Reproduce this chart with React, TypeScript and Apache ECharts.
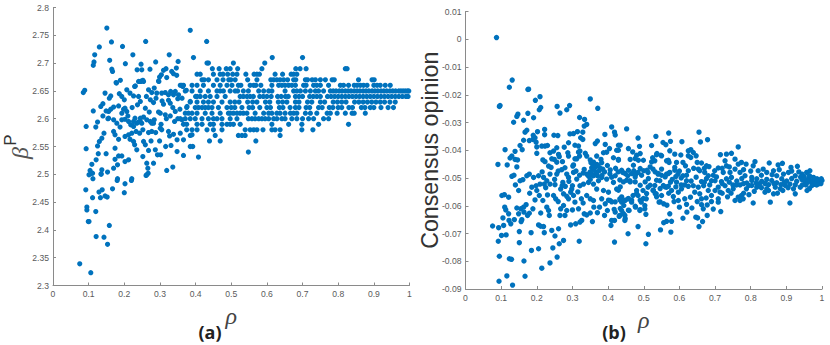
import React, { useEffect, useRef } from "react";
import * as echarts from "echarts";

// Panel (a): scattered points as [rho, beta]
const betaLoose = [
[.075,2.339],[.106,2.323],[.121,2.388],[.143,2.387],[.153,2.374],[.158,2.408],[.099,2.415],[.101,2.415],[.12,2.433],[.095,2.441],[.095,2.436],[.111,2.458],[.133,2.458],[.146,2.461],[.152,2.459],[.092,2.472],[.129,2.468],[.138,2.472],[.167,2.474],[.18,2.489],[.2,2.467],[.202,2.483],[.22,2.489],[.112,2.492],[.101,2.499],[.106,2.501],[.111,2.502],[.135,2.501],[.153,2.504],[.261,2.498],[.267,2.502],[.319,2.507],
[.151,2.763],[.13,2.729],[.164,2.738],[.117,2.715],[.195,2.73],[.224,2.715],[.26,2.739],[.385,2.759],[.431,2.739],[.394,2.71],[.115,2.702],[.113,2.696],[.159,2.705],[.203,2.699],[.247,2.698],[.288,2.702],[.326,2.715],[.351,2.703],[.236,2.688],[.249,2.688],[.272,2.689],[.165,2.689],[.167,2.685],[.178,2.664],[.189,2.669],[.317,2.69],[.31,2.687],[.304,2.679],[.299,2.675],[.333,2.685],[.338,2.681],[.346,2.691],[.347,2.678],[.319,2.674],[.297,2.667],[.24,2.667],[.246,2.667],[.252,2.669],[.229,2.658],[.085,2.647],[.089,2.651],
[.146,2.646],[.162,2.641],[.158,2.637],[.186,2.645],[.193,2.64],[.2,2.634],[.14,2.627],[.134,2.622],[.113,2.614],[.17,2.621],[.162,2.617],[.156,2.613],[.149,2.614],[.198,2.617],[.202,2.619],[.193,2.61],[.207,2.613],[.156,2.601],[.17,2.598],[.125,2.594],[.093,2.586],[.193,2.598],[.202,2.599],[.212,2.595],[.218,2.589],[.226,2.586],[.179,2.592],[.188,2.585],[.235,2.592],[.245,2.595],[.254,2.603],[.263,2.598],[.277,2.592],[.284,2.598],[.301,2.583],[.17,2.577],[.174,2.571],[.184,2.563],[.143,2.574],[.137,2.565],[.13,2.559],[.125,2.551],[.093,2.546],[.202,2.568],[.212,2.571],[.221,2.574],[.233,2.577],[.243,2.574],[.216,2.563],[.226,2.559],[.229,2.553],[.254,2.559],[.259,2.553],[.275,2.56],[.299,2.56],[.235,2.544],[.268,2.543],[.287,2.544],[.252,2.532],[.293,2.535],[.302,2.535],[.282,2.52],[.263,2.52],[.266,2.511],[.263,2.499],[.336,2.513],[.174,2.547],[.184,2.533],[.193,2.533],[.202,2.523],[.212,2.526],[.174,2.527],[.181,2.517],[.17,2.511],[.127,2.537],[.149,2.537],[.121,2.526],[.104,2.507],[.109,2.518],[.137,2.508],[.135,2.5],[.181,2.492],[.221,2.492],
[.324,2.577],[.327,2.569],[.357,2.574],[.348,2.562],[.366,2.562],[.331,2.552],[.348,2.541],[.366,2.534],[.385,2.55],[.392,2.55],[.408,2.531],[.341,2.595],[.362,2.598],[.39,2.571],[.277,2.577],
[.268,2.652],[.277,2.647],[.291,2.646],[.305,2.646],[.315,2.647],[.324,2.643],[.33,2.649],[.343,2.649],[.352,2.643],[.362,2.637],[.329,2.628],[.324,2.633],[.343,2.613],[.301,2.61],[.315,2.607],[.329,2.605],[.289,2.637],[.282,2.629],[.273,2.634],[.259,2.619],[.24,2.64],[.245,2.631],[.226,2.641],[.216,2.646],[.207,2.652],[.245,2.667],[.231,2.659],[.254,2.667],[.177,2.665],[.296,2.668],[.357,2.66],[.364,2.658],[.374,2.651],[.385,2.631],[.376,2.622],[.24,2.594],[.249,2.592],[.273,2.595],[.282,2.592],[.226,2.595],[.23,2.601],[.245,2.601],
[.338,2.643],[.35,2.636],[.31,2.626],[.296,2.612],[.27,2.612],[.21,2.605],[.222,2.62],[.237,2.625],[.262,2.64],[.284,2.655],[.306,2.632],[.336,2.62],[.356,2.617],[.35,2.6],[.318,2.6],[.305,2.58],[.288,2.575],[.338,2.572],[.316,2.55],[.303,2.59],[.252,2.58],[.268,2.575],[.14,2.605],[.12,2.585],[.184,2.623],[.154,2.6],
];
// Panel (a): values quantised on rows, one list of rho per beta
const beta270 = [.432,.436,.506,.594];
const beta271 = [.615,.70];
const beta269 = [.447,.466,.486,.497,.518,.586,.681,.693,.71,.82,.825];
const beta268 = [.404,.413,.45,.469,.477,.49,.504,.516,.541,.564,.572,.579,.623,.644,.668,.675,.684];
const beta267 = [.418,.424,.436,.46,.477,.493,.499,.511,.546,.572,.611,.619,.628,.637,.647,.658,.675,.681,.708,.714,.727,.736,.75,.764,.783,.789,.857,.895,.901];
const beta266 = [.361,.366,.39,.404,.422,.45,.469,.488,.502,.52,.527,.553,.563,.569,.583,.614,.633,.642,.651,.661,.67,.68,.703,.71,.731,.74,.75,.773,.806,.815,.829,.845,.853,.862,.871,.881,.9,.909,.918,.932,.946];
const beta265 = [.371,.39,.413,.436,.46,.469,.478,.497,.511,.518,.534,.548,.577,.591,.605,.614,.651,.675,.684,.694,.708,.722,.736,.745,.759,.778,.786,.794,.803,.811,.82,.828,.836,.845,.853,.861,.87,.878,.886,.895,.903,.911,.92,.928,.936,.945,.953,.961,.97,.976,.982,.988,.994,.998];
const beta264 = [.40,.404,.413,.427,.441,.46,.483,.525,.534,.544,.553,.562,.58,.59,.6,.612,.63,.64,.652,.66,.68,.69,.7,.72,.73,.74,.75,.77,.78,.79,.8,.81,.82,.83,.84,.85,.86,.87,.88,.89,.9,.91,.92,.93,.94,.95,.96,.97,.98,.99,.996];
const beta263 = [.385,.404,.422,.436,.45,.474,.497,.51,.522,.546,.56,.572,.596,.608,.632,.644,.656,.68,.69,.714,.726,.75,.762,.786,.798,.81,.822,.846,.858,.87,.882,.894,.906,.918,.93,.945,.96];
const beta262 = [.375,.399,.408,.418,.427,.436,.446,.464,.488,.5,.51,.53,.55,.56,.58,.6,.61,.635,.645,.665,.68,.69,.71,.72,.745,.755,.775,.785,.8,.81,.83,.84,.865,.875,.89,.9,.92,.94,.955];
const beta261 = [.371,.38,.39,.404,.427,.446,.469,.492,.497,.506,.516,.525,.534,.544,.567,.591,.605,.614,.628,.637,.651,.666,.675,.684,.708,.722,.74,.769,.778,.797,.82,.839,.845,.876];
const beta260 = [.357,.371,.385,.399,.418,.436,.45,.46,.474,.497,.516,.548,.558,.567,.577,.586,.595,.605,.619,.628,.642,.651,.67,.684,.7,.717,.731,.759,.773];
const beta259 = [.366,.375,.404,.418,.441,.45,.474,.488,.497,.506,.525,.614,.661,.698,.745,.829];
const beta258 = [.375,.39,.404,.432,.45,.474,.539,.553,.563,.572,.589,.614,.623,.637,.698,.729];
const beta257 = [.385,.455,.52,.53,.539,.637];
const beta256 = [.439,.469,.569];
const beta254 = [.548];
const betaRows: [number, number[]][] = [[2.71,beta271],[2.70,beta270],[2.69,beta269],[2.68,beta268],[2.67,beta267],[2.66,beta266],[2.65,beta265],[2.64,beta264],[2.63,beta263],[2.62,beta262],[2.61,beta261],[2.60,beta260],[2.59,beta259],[2.58,beta258],[2.57,beta257],[2.56,beta256],[2.54,beta254]];

// Panel (b): points as [rho, consensus]
const opinionLow = [
[.087,.0006],[.131,-.0147],[.123,-.0173],[.175,-.0181],[.177,-.018],[.209,-.0207],[.196,-.022],[.097,-.0239],[.095,-.0242],[.211,-.0246],[.207,-.0254],[.257,-.0242],[.292,-.0239],[.284,-.0254],[.265,-.0266],[.35,-.0215],[.371,-.0249],[.175,-.0267],[.147,-.027],[.144,-.0278],[.191,-.0283],[.135,-.0299],[.163,-.0292],[.32,-.0282],[.334,-.0289],[.34,-.0307],[.333,-.0313],[.41,-.0316],[.418,-.0335],[.172,-.0328],[.167,-.0335],[.202,-.0333],[.222,-.0325],[.222,-.0344],[.19,-.0346],[.248,-.0346],[.259,-.0347],[.293,-.0341],[.303,-.034],[.314,-.0333],[.329,-.0335],[.323,-.0355],[.329,-.0361],[.391,-.0343],[.153,-.0383],[.163,-.0364],[.179,-.0365],[.189,-.0361],[.195,-.0355],[.198,-.0371],[.2,-.0388],[.111,-.0398],[.159,-.0398],[.139,-.0404],[.214,-.0385],[.223,-.0385],[.23,-.0383],[.247,-.0403],[.256,-.0391],[.237,-.0409],[.277,-.0389],[.289,-.0373],[.307,-.0382],[.317,-.0385],[.321,-.0403],[.364,-.0376],[.37,-.0367],[.392,-.0379],[.404,-.0394],[.429,-.0382],[.424,-.04],
[.13,-.0421],[.125,-.0428],[.139,-.0433],[.146,-.0435],[.091,-.0451],[.117,-.0453],[.144,-.046],[.2,-.0411],[.217,-.0435],[.223,-.0441],[.233,-.0457],[.242,-.0431],[.249,-.0433],[.261,-.0415],[.263,-.0423],[.256,-.0443],[.272,-.0441],[.287,-.0409],[.289,-.0421],[.303,-.0453],[.317,-.0407],[.32,-.0421],[.312,-.0431],[.307,-.0431],[.336,-.0411],[.34,-.0421],[.35,-.0435],[.359,-.0443],[.368,-.0421],[.38,-.0433],[.387,-.0409],[.396,-.0407],[.415,-.0427],[.429,-.0433],[.368,-.0451],[.382,-.0445],[.398,-.0455],[.421,-.0465],[.279,-.0463],[.301,-.0457],[.333,-.0469],[.354,-.0463],[.406,-.0471],
[.13,-.0494],[.136,-.049],[.153,-.051],[.161,-.0506],[.172,-.0492],[.179,-.0486],[.191,-.0498],[.14,-.0525],[.149,-.0545],[.186,-.0533],[.198,-.0528],[.209,-.0522],[.221,-.0522],[.228,-.051],[.237,-.0522],[.251,-.0524],[.102,-.0563],[.109,-.056],[.121,-.0569],[.207,-.0563],[.195,-.0579],[.217,-.0581],[.23,-.0561],[.247,-.0563],[.253,-.0575],[.11,-.0605],[.113,-.0615],[.121,-.0629],[.105,-.0644],[.144,-.0608],[.155,-.0611],[.149,-.0629],[.17,-.0596],[.163,-.0605],[.164,-.0623],[.179,-.0627],[.189,-.0611],[.211,-.0626],[.228,-.0605],[.233,-.0617],[.235,-.0635],[.122,-.0653],[.127,-.0665],[.137,-.065],[.158,-.065],[.156,-.0657],[.174,-.0635],
[.076,-.0673],[.093,-.0679],[.107,-.0671],[.101,-.0707],[.114,-.0705],[.092,-.0728],[.151,-.0693],[.151,-.0733],[.184,-.0697],[.205,-.0669],[.211,-.0674],[.219,-.0675],[.221,-.0697],[.242,-.0689],[.251,-.0709],[.261,-.0683],[.275,-.0725],[.263,-.0737],[.245,-.0752],[.257,-.0785],[.237,-.0806],[.205,-.0755],[.185,-.0761],[.164,-.0799],[.214,-.0825],[.167,-.0854],[.095,-.0782],[.123,-.0791],[.129,-.0793],[.094,-.0872],[.116,-.0853],[.132,-.0886],
[.267,-.054],[.271,-.0528],[.273,-.0516],[.275,-.0557],[.284,-.0566],[.289,-.0575],[.298,-.054],[.295,-.0551],[.303,-.0563],[.307,-.0587],[.267,-.0611],[.275,-.0599],[.265,-.0635],[.279,-.0635],[.284,-.0617],[.317,-.0611],[.295,-.0669],[.309,-.0665],[.321,-.0659],[.326,-.0653],[.319,-.0728],[.333,-.0629],[.34,-.0633],[.35,-.0626],[.356,-.0657],
[.312,-.0504],[.321,-.0528],[.331,-.0522],[.345,-.0516],[.359,-.0522],[.368,-.054],[.373,-.051],[.382,-.0498],[.396,-.0504],[.415,-.0516],[.424,-.054],[.34,-.0563],[.35,-.0575],[.359,-.0581],[.382,-.0575],[.376,-.0605],[.387,-.0545],[.401,-.0551],[.406,-.0581],[.392,-.0593],[.398,-.0617],[.42,-.0623],[.41,-.0653],[.418,-.0653],[.408,-.0671],[.418,-.0731],[.34,-.0486],[.354,-.0486],[.359,-.0492],[.368,-.048],[.237,-.0486],[.256,-.0486],[.284,-.0486],[.303,-.048],[.289,-.0498],[.219,-.0498],[.205,-.0492],
];
const opinionHigh = [
[.452,-.0323],[.42,-.0345],[.488,-.0386],[.522,-.0383],[.434,-.0382],[.429,-.04],[.457,-.0394],[.469,-.0406],[.48,-.0418],[.49,-.0412],[.499,-.0436],[.485,-.0436],[.476,-.043],[.537,-.0412],[.548,-.0418],[.525,-.0427],[.522,-.0442],[.429,-.0436],[.569,-.0436],[.462,-.0433],[.438,-.0472],[.448,-.0484],[.457,-.0472],[.466,-.0484],[.471,-.0454],[.49,-.0466],[.476,-.0496],[.494,-.049],[.509,-.0472],[.518,-.046],[.513,-.0502],[.532,-.0478],[.541,-.0484],[.55,-.049],[.56,-.0496],[.536,-.0508],[.569,-.0484],
[.434,-.0532],[.443,-.0514],[.452,-.0508],[.462,-.0514],[.476,-.0514],[.49,-.0526],[.504,-.0514],[.518,-.0526],[.527,-.0544],[.532,-.0556],[.546,-.0538],[.56,-.0532],[.569,-.053],[.429,-.0544],[.438,-.0568],[.448,-.058],[.457,-.0574],[.466,-.058],[.434,-.058],[.401,-.058],[.41,-.0586],[.42,-.0586],[.49,-.058],[.48,-.0556],[.499,-.0574],[.508,-.0556],[.536,-.0568],[.546,-.0586],[.565,-.0598],[.434,-.061],[.443,-.0628],[.457,-.0616],[.476,-.0602],[.49,-.0614],[.506,-.0631],[.417,-.0613],[.431,-.0638],[.448,-.0646],
[.484,-.0356],[.534,-.035],[.57,-.0338],[.554,-.0372],[.562,-.038],[.575,-.0368],[.607,-.0369],[.655,-.0335],[.659,-.037],[.679,-.0362],[.765,-.0388],[.536,-.0416],[.55,-.042],[.531,-.0438],[.573,-.0402],[.587,-.0414],[.604,-.0417],[.625,-.0402],[.632,-.0398],[.639,-.0408],[.647,-.042],[.625,-.042],[.632,-.0426],[.715,-.0416],[.732,-.0414],[.746,-.0411],[.756,-.0432],[.765,-.045],[.774,-.0444],[.787,-.045],[.728,-.0438],[.732,-.0456],[.812,-.0441],[.807,-.0456],[.852,-.0446],[.877,-.0453],[.889,-.0447],[.913,-.0462],[.931,-.0458],
[.564,-.0438],[.571,-.0444],[.61,-.0444],[.617,-.0456],[.592,-.0444],[.587,-.0462],[.65,-.0444],[.662,-.0446],[.653,-.0468],[.676,-.0456],[.683,-.0459],[.657,-.0474],[.671,-.048],
[.441,-.048],[.455,-.0492],[.472,-.0474],[.478,-.0486],[.433,-.0507],[.461,-.051],[.484,-.048],[.5,-.0474],[.512,-.048],[.526,-.0468],[.54,-.0486],[.55,-.0468],[.564,-.0486],[.573,-.048],[.587,-.0472],[.596,-.0486],[.61,-.0492],[.625,-.0474],[.681,-.0492],[.699,-.0474],[.709,-.0464],[.723,-.048],[.742,-.048],[.756,-.0468],[.77,-.048],[.784,-.0492],[.803,-.0498],[.821,-.0474],[.835,-.0468],[.845,-.048],[.864,-.0474],[.873,-.0492],[.892,-.0486],[.906,-.048],[.925,-.0492],[.944,-.0486],[.957,-.048],[.966,-.0474],
[.633,-.0511],[.647,-.0497],[.662,-.0513],[.676,-.0502],[.69,-.051],[.704,-.0496],[.718,-.0513],[.732,-.0503],[.746,-.0498],[.761,-.0511],[.775,-.0502],[.789,-.0518],[.803,-.0509],[.817,-.0503],[.831,-.0512],[.845,-.0505],[.859,-.0509],[.873,-.0517],[.887,-.0503],[.901,-.0511],[.915,-.0502],[.929,-.0512],[.944,-.0506],[.953,-.0517],[.962,-.0503],[.972,-.0511],[.981,-.0516],[.986,-.0503],[.991,-.051],[.995,-.0515],[1,-.0509],[.998,-.0503],[.99,-.0521],[.981,-.0523],[.972,-.0517],[.997,-.052],[.976,-.0498],[.94,-.0497],[.955,-.0525],[.91,-.0522],[.885,-.0524],[.85,-.0524],[.825,-.052],[.795,-.0527],[.76,-.0525],[.72,-.052],
[.807,-.059],[.855,-.0587],[.91,-.059],[.716,-.0621],[.695,-.0612],[.678,-.0597],[.662,-.0596],[.667,-.0611],[.678,-.0635],[.621,-.0623],[.61,-.0645],[.646,-.0641],[.651,-.0644],[.573,-.0629],[.578,-.0656],[.564,-.0656],[.556,-.0661],[.665,-.0657],[.655,-.0675],[.547,-.0687],[.576,-.0695],[.484,-.0675],[.456,-.0701],[.513,-.0703],[.506,-.0737],
[.433,-.0575],[.438,-.0587],[.447,-.0581],[.456,-.0575],[.466,-.0587],[.444,-.0599],[.438,-.0617],[.433,-.0635],[.447,-.0635],[.447,-.0653],[.459,-.0617],[.477,-.0605],[.489,-.0617],[.503,-.0611],[.493,-.0587],[.503,-.0599],[.507,-.0575],[.47,-.0563],[.484,-.0563],[.48,-.0545],[.498,-.0545],[.512,-.0533],[.531,-.0527],[.526,-.0545],[.535,-.0557],[.55,-.0563],[.543,-.0587],[.556,-.0593],[.564,-.0533],[.555,-.0527],[.583,-.0567],[.597,-.0581],[.597,-.0551],[.606,-.0539],[.615,-.0575],[.631,-.0569],
[.639,-.0528],[.653,-.0533],[.668,-.0528],[.643,-.0551],[.657,-.0557],[.662,-.0575],[.681,-.0545],[.69,-.0563],[.709,-.0533],[.714,-.0551],[.709,-.0575],[.709,-.0587],[.728,-.0528],[.737,-.0545],[.751,-.0539],[.756,-.0581],[.765,-.0569],[.774,-.0563],[.77,-.0581],[.779,-.0575],[.788,-.0539],[.803,-.0527],[.817,-.0533],[.84,-.0551],[.845,-.0539],[.864,-.0557],[.869,-.0533],[.883,-.0539],[.897,-.0527],[.92,-.0539],[.925,-.0557],[.939,-.0533],[.958,-.0545],[.972,-.0527],
[.58,-.0505],[.592,-.0515],[.605,-.05],[.62,-.051],[.59,-.0532],[.578,-.0545],[.615,-.0525],[.545,-.051],[.575,-.0515],[.62,-.049],[.6,-.0475],[.64,-.0465],[.67,-.0465],[.695,-.049],[.72,-.0465],[.74,-.046],[.78,-.047],[.8,-.0475],[.83,-.049],[.86,-.0488],[.88,-.047],[.915,-.0475],[.935,-.0478],[.95,-.0495],[.965,-.0492],[.98,-.0505],
];
const opinionDense = [
[.352,-.0445],[.358,-.0452],[.365,-.046],[.372,-.0455],[.378,-.0465],[.36,-.047],[.35,-.0478],[.366,-.048],[.375,-.0474],[.385,-.0468],[.39,-.0478],[.383,-.049],[.345,-.0493],[.37,-.0492],[.33,-.0482],[.32,-.049],[.31,-.0475],[.27,-.047],[.26,-.0475],[.24,-.0462],[.215,-.0478],[.35,-.0505],[.405,-.0485],[.41,-.0497],[.42,-.0492],[.428,-.0478],[.29,-.0512],[.3,-.0528],[.25,-.0505],[.18,-.0555],[.2,-.0545],[.225,-.0535],[.315,-.055],[.325,-.0575],[.33,-.059],[.36,-.0605],[.37,-.0625],[.39,-.0635],[.3,-.0615],[.26,-.0585],[.28,-.053],
[.59,-.0495],[.605,-.0525],[.625,-.053],[.57,-.0555],[.585,-.0585],[.6,-.0605],[.62,-.0595],[.635,-.0608],[.65,-.0585],[.675,-.0572],[.69,-.0585],[.7,-.0545],[.72,-.0555],[.735,-.0568],[.745,-.0555],[.75,-.0525],[.77,-.0525],[.78,-.0555],[.795,-.056],[.81,-.0548],[.83,-.0535],[.85,-.0545],[.875,-.0555],[.89,-.0545],[.905,-.0535],[.945,-.0525],[.965,-.0538],[.67,-.0515],[.685,-.0525],[.7,-.051],[.74,-.0515],[.78,-.052],[.815,-.0518],[.84,-.052],[.865,-.052],[.895,-.0515],[.925,-.0525],[.95,-.0505],[.96,-.0515],[.985,-.0512],[.985,-.0525],
];

const xTicks = [0, .1, .2, .3, .4, .5, .6, .7, .8, .9, 1];
const yTitleA = "P";
const yGreekA = "β";
const xName = "ρ";
const yNameB = "Consensus opinion";
const captionA = "(a)";
const captionB = "(b)";

const BLUE = "#0072BD";
const AXIS = "#8a8a8a";
const LABEL = "#5a5a5a";

const axisCommon = {
  axisLine: { show: true, onZero: false, lineStyle: { color: AXIS, width: 1 } },
  axisTick: { show: true, inside: true, length: 3, lineStyle: { color: AXIS } },
  axisLabel: { color: LABEL, fontSize: 8.6, fontFamily: "Liberation Sans", margin: 4 },
  splitLine: { show: false },
};

const xAxisFor = (gridIndex: number, nameGap: number) => ({
  ...axisCommon,
  type: "value",
  gridIndex,
  min: xTicks[0],
  max: xTicks[xTicks.length - 1],
  interval: 0.1,
  name: xName,
  nameLocation: "middle",
  nameGap,
  nameMoveOverlap: false,
  nameTextStyle: { fontFamily: "Liberation Serif", fontStyle: "italic", fontSize: 24, color: "#444" },
});

export default function App() {
  const ref = useRef<HTMLDivElement>(null);
  useEffect(() => {
    const chart = echarts.init(ref.current!, null, { renderer: "svg" });
    const betaData = [...betaLoose];
    betaRows.forEach(([y, xs]) => xs.forEach((x) => betaData.push([x, y])));
    chart.setOption({
      animation: false,
      backgroundColor: "#fff",
      grid: [
        { left: 53, top: 7.5, width: 356.5, height: 278 },
        { left: 465.5, top: 11.5, width: 356.5, height: 277.5 },
      ],
      xAxis: [xAxisFor(0, 18), xAxisFor(1, 19)],
      yAxis: [
        { ...axisCommon, type: "value", gridIndex: 0, min: 2.3, max: 2.8, interval: 0.05 },
        {
          ...axisCommon, type: "value", gridIndex: 1, min: -0.09, max: 0.01, interval: 0.01,
          name: yNameB, nameLocation: "middle", nameGap: 24, nameMoveOverlap: false,
          nameTextStyle: { fontFamily: "Liberation Sans", fontSize: 23.2, color: "#333" },
        },
      ],
      series: [
        { type: "scatter", xAxisIndex: 0, yAxisIndex: 0, data: betaData, symbolSize: 5.2, itemStyle: { color: BLUE, opacity: 1 } },
        { type: "scatter", xAxisIndex: 1, yAxisIndex: 1, data: [...opinionLow, ...opinionHigh, ...opinionDense], symbolSize: 5.4, itemStyle: { color: BLUE, opacity: 1 } },
      ],
      graphic: [
        { type: "text", x: 18.5, y: 140, rotation: Math.PI / 2, style: { text: yTitleA, fontFamily: "Liberation Sans", fontSize: 17, fill: "#333", textAlign: "center", textVerticalAlign: "bottom" } },
        { type: "text", x: 20, y: 153, rotation: Math.PI / 2, style: { text: yGreekA, fontFamily: "Liberation Serif", fontStyle: "italic", fontSize: 24, fill: "#555", textAlign: "center", textVerticalAlign: "middle" } },
        { type: "text", x: 210, y: 332, style: { text: captionA, fontFamily: "Open Sans", fontWeight: "bold", fontSize: 18, fill: "#222", textAlign: "center", textVerticalAlign: "middle" } },
        { type: "text", x: 614, y: 332, style: { text: captionB, fontFamily: "Open Sans", fontWeight: "bold", fontSize: 18, fill: "#222", textAlign: "center", textVerticalAlign: "middle" } },
      ],
    });
    return () => chart.dispose();
  }, []);
  return <div ref={ref} style={{ position: "fixed", left: 0, top: 0, width: 830, height: 345 }} />;
}
